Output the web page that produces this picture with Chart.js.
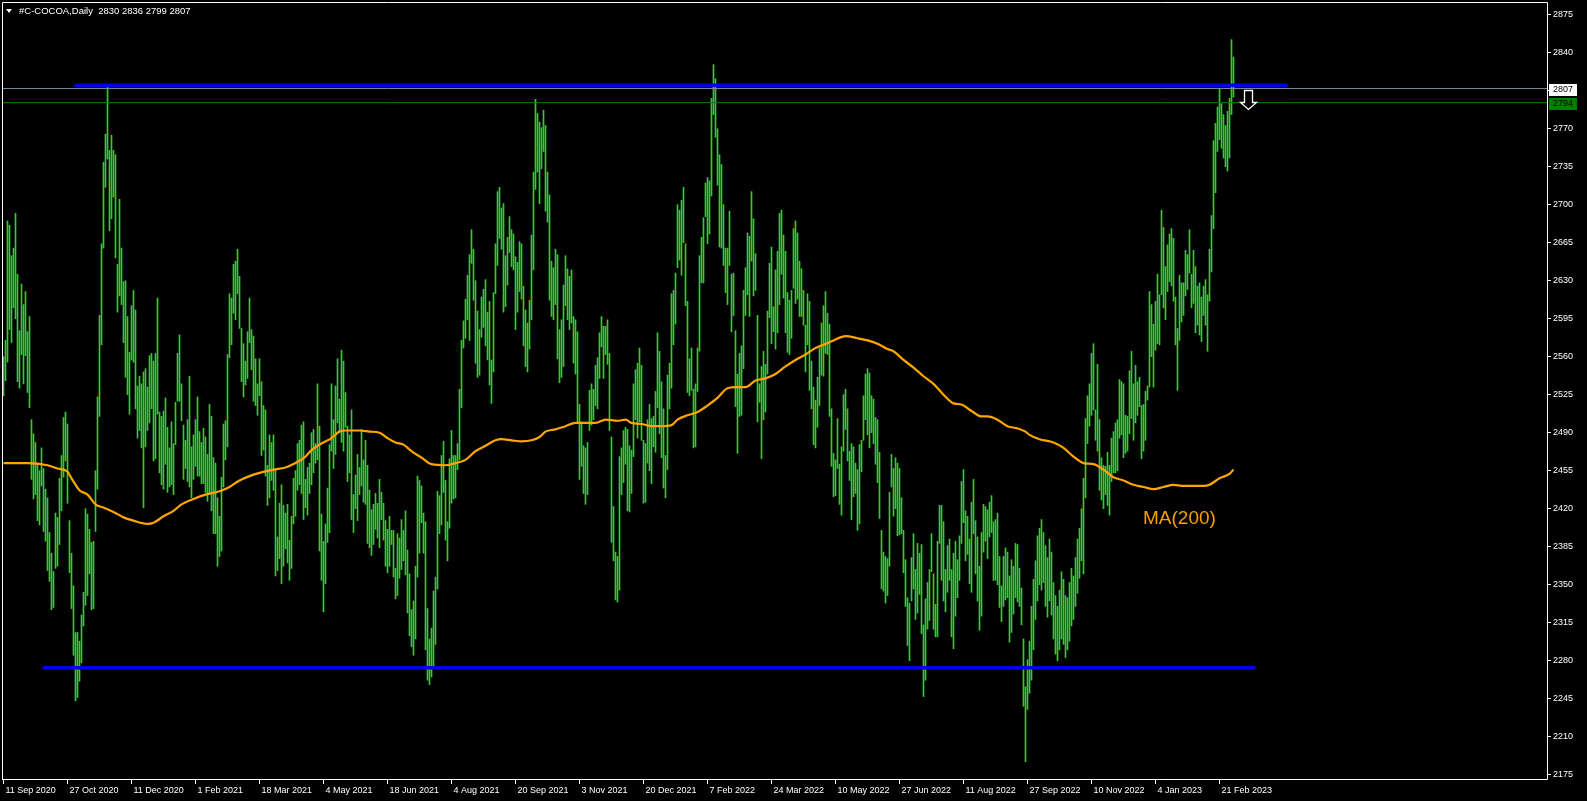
<!DOCTYPE html>
<html><head><meta charset="utf-8">
<script src="https://cdn.jsdelivr.net/npm/chart.js@4.4.0/dist/chart.umd.min.js"></script>
<style>html,body{margin:0;padding:0;background:#000;overflow:hidden}canvas{display:block}</style>
</head><body>
<canvas id="c" width="1587" height="801"></canvas>
<script>
// ---- data (daily bars, index 0 = 11 Sep 2020) ----
const HIGH=[
2560,2575,2685,2681,2653,2660,2692,2636,2584,2627,
2608,2620,2583,2597,2502,2489,2481,2461,2455,2476,
2457,2438,2430,2398,2379,2362,2416,2412,2448,2469,
2504,2509,2498,2409,2379,2349,2306,2306,2298,2322,
2343,2420,2415,2401,2389,2390,2455,2523,2598,2664,
2739,2765,2808,2750,2764,2750,2746,2645,2705,2660,
2629,2630,2597,2564,2607,2621,2603,2533,2542,2535,
2546,2549,2532,2561,2563,2556,2563,2614,2509,2505,
2510,2522,2495,2476,2500,2480,2518,2563,2580,2535,
2497,2483,2502,2542,2477,2488,2502,2523,2491,2481,
2494,2486,2470,2516,2505,2467,2462,2430,2413,2449,
2498,2501,2562,2618,2614,2645,2648,2659,2634,2586,
2572,2556,2583,2614,2585,2579,2558,2535,2558,2537,
2515,2511,2460,2488,2481,2488,2456,2394,2425,2442,
2423,2416,2424,2391,2413,2448,2455,2480,2483,2497,
2500,2447,2458,2462,2490,2493,2480,2535,2496,2415,
2390,2406,2439,2479,2535,2502,2533,2558,2521,2566,
2556,2527,2496,2488,2511,2433,2451,2470,2458,2493,
2465,2483,2460,2437,2419,2424,2434,2425,2447,2435,
2425,2409,2401,2413,2400,2400,2365,2397,2393,2410,
2400,2418,2382,2360,2327,2335,2367,2450,2446,2441,
2416,2408,2328,2300,2310,2344,2357,2436,2432,2469,
2482,2446,2408,2466,2492,2469,2469,2480,2530,2575,
2593,2613,2635,2654,2677,2659,2630,2602,2585,2615,
2622,2631,2601,2611,2557,2619,2664,2712,2716,2697,
2701,2653,2670,2689,2677,2673,2652,2647,2666,2664,
2625,2603,2591,2612,2672,2730,2797,2784,2776,2771,
2787,2773,2730,2709,2648,2642,2659,2654,2585,2594,
2626,2653,2641,2634,2640,2597,2594,2583,2516,2500,
2478,2476,2481,2529,2535,2530,2552,2559,2582,2597,
2588,2588,2594,2563,2486,2422,2380,2376,2468,2476,
2492,2495,2493,2478,2474,2535,2548,2554,2568,2552,
2483,2480,2502,2516,2503,2505,2528,2582,2565,2537,
2512,2469,2543,2554,2618,2621,2637,2700,2695,2704,
2716,2664,2611,2558,2568,2530,2535,2568,2653,2670,
2688,2720,2725,2722,2798,2829,2816,2770,2746,2737,
2700,2660,2660,2694,2636,2637,2584,2544,2563,2570,
2621,2642,2674,2671,2712,2687,2655,2598,2535,2551,
2565,2553,2602,2646,2661,2606,2640,2657,2692,2695,
2672,2657,2619,2612,2621,2678,2685,2674,2648,2641,
2621,2589,2618,2611,2556,2532,2520,2541,2568,2591,
2607,2620,2600,2590,2512,2471,2465,2503,2461,2477,
2525,2530,2512,2473,2480,2477,2462,2456,2479,2483,
2524,2544,2549,2545,2524,2521,2504,2502,2472,2400,
2380,2376,2374,2435,2470,2457,2467,2462,2457,2430,
2400,2373,2338,2333,2375,2397,2364,2388,2379,2387,
2313,2337,2352,2364,2397,2360,2332,2390,2423,2423,
2408,2364,2386,2392,2364,2379,2390,2373,2395,2445,
2456,2418,2413,2392,2426,2447,2409,2394,2367,2398,
2424,2422,2419,2426,2432,2408,2410,2416,2376,2349,
2376,2384,2380,2358,2373,2367,2388,2387,2365,2347,
2300,2256,2281,2298,2330,2355,2372,2395,2402,2410,
2398,2386,2375,2392,2380,2352,2340,2330,2345,2362,
2355,2340,2338,2352,2365,2358,2375,2392,2402,2420,
2448,2503,2524,2535,2563,2572,2511,2553,2502,2467,
2460,2459,2472,2460,2485,2491,2499,2502,2539,2537,
2535,2506,2505,2547,2565,2535,2552,2537,2541,2515,
2516,2528,2533,2620,2608,2590,2611,2636,2617,2695,
2679,2643,2663,2673,2678,2669,2615,2586,2635,2628,
2628,2658,2654,2677,2636,2658,2643,2625,2628,2615,
2625,2631,2617,2659,2690,2759,2775,2790,2807,2793,
2783,2773,2786,2798,2852,2836];
const LOW=[
2524,2538,2555,2585,2573,2605,2595,2537,2531,2562,
2535,2561,2527,2513,2447,2429,2433,2409,2405,2441,
2399,2390,2363,2353,2327,2329,2365,2367,2387,2418,
2449,2464,2425,2361,2328,2285,2243,2246,2261,2278,
2312,2331,2340,2360,2327,2328,2399,2438,2505,2571,
2660,2716,2742,2676,2687,2707,2651,2601,2616,2608,
2573,2541,2525,2507,2557,2555,2512,2485,2492,2476,
2421,2477,2492,2499,2512,2464,2466,2507,2453,2442,
2438,2461,2435,2440,2442,2433,2479,2519,2519,2501,
2447,2457,2445,2440,2430,2447,2459,2450,2450,2443,
2443,2435,2427,2433,2418,2397,2397,2367,2376,2381,
2440,2465,2477,2559,2571,2600,2594,2618,2586,2537,
2523,2534,2540,2573,2548,2519,2515,2506,2524,2469,
2474,2450,2423,2430,2446,2437,2358,2363,2374,2351,
2367,2383,2370,2354,2365,2406,2413,2437,2442,2434,
2410,2421,2414,2434,2442,2453,2462,2465,2381,2354,
2325,2351,2389,2398,2473,2457,2470,2499,2490,2481,
2473,2495,2445,2453,2410,2398,2420,2409,2433,2441,
2426,2424,2388,2384,2377,2387,2401,2393,2384,2410,
2391,2367,2361,2367,2387,2357,2337,2340,2356,2364,
2372,2359,2324,2303,2293,2285,2300,2357,2379,2407,
2379,2290,2262,2258,2265,2275,2295,2346,2397,2405,
2435,2391,2372,2402,2425,2429,2430,2456,2465,2513,
2568,2577,2594,2575,2646,2612,2554,2541,2543,2578,
2587,2570,2557,2534,2517,2546,2618,2644,2669,2659,
2601,2606,2626,2656,2643,2640,2585,2601,2620,2613,
2570,2551,2546,2567,2594,2640,2714,2730,2701,2733,
2749,2694,2684,2612,2597,2594,2608,2558,2536,2541,
2551,2607,2594,2585,2591,2554,2544,2499,2447,2459,
2434,2424,2433,2492,2497,2502,2515,2512,2540,2569,
2540,2562,2553,2492,2389,2372,2336,2334,2345,2433,
2444,2461,2418,2417,2434,2468,2502,2485,2500,2483,
2425,2426,2462,2455,2443,2477,2472,2513,2489,2467,
2439,2430,2456,2512,2531,2571,2590,2642,2649,2635,
2665,2607,2527,2524,2529,2476,2477,2528,2565,2628,
2628,2689,2664,2673,2708,2783,2762,2718,2661,2660,
2644,2619,2608,2644,2583,2598,2514,2471,2505,2506,
2549,2598,2617,2597,2648,2616,2621,2500,2518,2466,
2502,2509,2544,2596,2572,2583,2567,2582,2608,2636,
2614,2582,2564,2562,2577,2623,2609,2613,2597,2597,
2589,2546,2571,2529,2512,2479,2476,2495,2515,2543,
2542,2563,2562,2505,2459,2431,2432,2457,2424,2414,
2473,2493,2464,2446,2410,2431,2434,2400,2406,2454,
2483,2502,2488,2476,2490,2480,2461,2444,2411,2346,
2344,2333,2340,2367,2440,2413,2420,2395,2396,2397,
2361,2330,2294,2280,2335,2346,2318,2324,2341,2305,
2247,2262,2309,2317,2362,2309,2302,2302,2388,2354,
2335,2325,2343,2354,2302,2291,2321,2338,2354,2388,
2407,2372,2378,2351,2343,2397,2360,2335,2308,2321,
2380,2390,2374,2394,2398,2354,2354,2350,2329,2316,
2330,2336,2338,2297,2306,2323,2338,2334,2330,2313,
2238,2187,2235,2250,2262,2290,2318,2335,2350,2345,
2352,2330,2320,2335,2322,2300,2286,2280,2290,2300,
2295,2283,2290,2298,2312,2318,2330,2342,2356,2372,
2360,2430,2480,2496,2506,2511,2483,2473,2437,2428,
2420,2433,2423,2414,2445,2453,2453,2455,2485,2488,
2467,2471,2473,2489,2503,2483,2499,2506,2514,2466,
2473,2483,2520,2532,2560,2532,2566,2572,2571,2617,
2605,2594,2620,2629,2625,2611,2571,2529,2575,2592,
2598,2616,2622,2637,2605,2609,2582,2589,2580,2574,
2598,2589,2565,2611,2638,2678,2711,2749,2760,2752,
2743,2735,2731,2743,2783,2799];
// MA(200) at these bar indexes
const MA_IDX=[0,12,22,27,32,34,38,42,46,50,55,60,65,72,75,80,85,89,95,101,
108,113,118,123,128,135,141,146,151,154,159,164,168,171,178,183,188,192,196,200,
204,209,214,221,226,231,236,241,246,249,254,259,264,268,271,276,281,286,291,296,
301,307,311,314,319,324,329,334,337,342,347,352,357,362,367,371,376,381,386,391,
396,401,406,410,415,421,427,432,437,442,445,450,455,460,465,470,475,479,484,489,
492,497,502,507,511,513,518,525,530,535,540,545,550,555,560,565,570,575,580,585,
590,595,600,603,608,613,615];
const MA_VAL=[2462,2462,2460,2457,2454,2448,2437,2433,2424,2421,2417,2412,2409,2406,2407,2413,2418,2424,2429,2433,
2436,2440,2446,2450,2453,2456,2458,2462,2468,2474,2480,2485,2491,2492,2492,2491,2490,2485,2481,2479,
2473,2467,2461,2460,2462,2465,2473,2478,2483,2484,2483,2482,2483,2486,2491,2493,2496,2499,2499,2499,
2502,2501,2502,2499,2498,2496,2496,2497,2502,2506,2509,2515,2522,2531,2532,2532,2538,2540,2544,2551,
2557,2562,2568,2571,2575,2579,2577,2575,2572,2567,2565,2557,2550,2542,2535,2525,2517,2516,2510,2505,
2505,2502,2496,2494,2491,2488,2484,2481,2476,2468,2462,2461,2456,2449,2446,2442,2440,2438,2440,2442,
2441,2441,2441,2442,2448,2452,2456];
const DATE_LABELS=["11 Sep 2020","27 Oct 2020","11 Dec 2020","1 Feb 2021","18 Mar 2021","4 May 2021","18 Jun 2021","4 Aug 2021","20 Sep 2021","3 Nov 2021","20 Dec 2021","7 Feb 2022","24 Mar 2022","10 May 2022","27 Jun 2022","11 Aug 2022","27 Sep 2022","10 Nov 2022","4 Jan 2023","21 Feb 2023"];
const DATE_IDX=[0,32,64,96,128,160,192,224,256,288,320,352,384,416,448,480,512,544,576,608];
const Y_TICKS=[2175,2210,2245,2280,2315,2350,2385,2420,2455,2490,2525,2560,2595,2630,2665,2700,2735,2770,2805,2840,2875];
const RES_LEVEL=2810, RES_FROM=35.5, RES_TO=642;
const SUP_LEVEL=2273.5, SUP_FROM=19.6, SUP_TO=626;
const BID=2807, ASK=2794;
const HEADER='#C-COCOA,Daily  2830 2836 2799 2807';
const MA_LABEL='MA(200)', MA_LABEL_AT=[569.75,2410.5];
const ARROW_AT=[622.25,2805.6,2794.7,2788.2];

const X_MIN=-0.75, X_MAX=772.25, Y_MIN=2170.1, Y_MAX=2886.7;
const FONT='"Liberation Sans", Arial, sans-serif';

const bars=HIGH.map((h,i)=>({x:i,y:[LOW[i],h]}));
const ma=MA_IDX.map((x,k)=>({x:x,y:MA_VAL[k]}));

const bgPlugin={id:'bg',beforeDraw(c){const g=c.ctx;g.save();g.fillStyle='#000';g.fillRect(0,0,c.width,c.height);g.restore();}};
const decoPlugin={id:'deco',
 afterDatasetsDraw(c){
  const g=c.ctx,xs=c.scales.x,ys=c.scales.y,a=c.chartArea;
  g.save();
  g.fillStyle='#f5a000';g.font='19px '+FONT;g.textBaseline='middle';g.textAlign='left';
  g.fillText(MA_LABEL,xs.getPixelForValue(MA_LABEL_AT[0]),ys.getPixelForValue(MA_LABEL_AT[1]));
  const cx=Math.round(xs.getPixelForValue(ARROW_AT[0]))+0.5;
  const yt=Math.round(ys.getPixelForValue(ARROW_AT[1]))+0.5;
  const yh=Math.round(ys.getPixelForValue(ARROW_AT[2]))+0.5;
  const yb=Math.round(ys.getPixelForValue(ARROW_AT[3]))+0.5;
  g.beginPath();
  g.moveTo(cx-4,yt);g.lineTo(cx+4,yt);g.lineTo(cx+4,yh);g.lineTo(cx+8,yh);
  g.lineTo(cx,yb);g.lineTo(cx-8,yh);g.lineTo(cx-4,yh);g.closePath();
  g.fillStyle='#000';g.fill();g.strokeStyle='#fff';g.lineWidth=1.3;g.stroke();
  g.strokeStyle='#fff';g.lineWidth=1;
  g.beginPath();
  g.moveTo(a.left+0.5,a.bottom);g.lineTo(a.left+0.5,a.top+0.5);g.lineTo(a.right-0.5,a.top+0.5);
  g.lineTo(a.right-0.5,a.bottom-0.5);g.lineTo(a.left,a.bottom-0.5);
  g.stroke();
  g.restore();
 },
 afterDraw(c){
  const g=c.ctx,ys=c.scales.y,a=c.chartArea;
  g.save();
  g.fillStyle='#fff';
  g.beginPath();g.moveTo(6,9);g.lineTo(12,9);g.lineTo(9,13);g.closePath();g.fill();
  g.font='9.5px '+FONT;g.textBaseline='middle';g.textAlign='left';
  g.fillText(HEADER,19,11);
  const boxes=[[BID,'#ffffff'],[ASK,'#008000']];
  boxes.forEach(([v,col])=>{
    const y=Math.round(ys.getPixelForValue(v));
    g.fillStyle=col;g.fillRect(a.right+1,y-5,28,12);
    g.fillStyle='#000';g.font='9px '+FONT;g.textBaseline='middle';
    g.fillText(String(v),a.right+5,y+1);
  });
  g.restore();
 }};

new Chart(document.getElementById('c'),{
 type:'bar',
 data:{datasets:[
  {type:'bar',data:bars,backgroundColor:'#32cd32',borderWidth:0,barThickness:1,grouped:false,order:5},
  {type:'line',data:ma,borderColor:'#ffa500',borderWidth:2.2,pointRadius:0,cubicInterpolationMode:'monotone',order:4},
  {type:'line',data:[{x:X_MIN,y:BID},{x:X_MAX,y:BID}],borderColor:'#778899',borderWidth:1,pointRadius:0,order:3},
  {type:'line',data:[{x:X_MIN,y:ASK},{x:X_MAX,y:ASK}],borderColor:'#008000',borderWidth:1,pointRadius:0,order:3},
  {type:'line',data:[{x:RES_FROM,y:RES_LEVEL},{x:RES_TO,y:RES_LEVEL}],borderColor:'#0000ee',borderWidth:3.6,pointRadius:0,order:1},
  {type:'line',data:[{x:SUP_FROM,y:SUP_LEVEL},{x:SUP_TO,y:SUP_LEVEL}],borderColor:'#0000ee',borderWidth:3.6,pointRadius:0,order:1}
 ]},
 options:{
  responsive:false,animation:false,devicePixelRatio:1,
  layout:{padding:{left:2,top:2,right:0,bottom:0}},
  plugins:{legend:{display:false},tooltip:{enabled:false}},
  scales:{
   x:{type:'linear',position:'bottom',min:X_MIN,max:X_MAX,offset:false,
      afterBuildTicks:s=>{s.ticks=DATE_IDX.map(v=>({value:v}));},
      afterFit:s=>{s.height=21;s.paddingLeft=0;s.paddingRight=0;},
      grid:{display:true,offset:false,drawOnChartArea:false,drawTicks:true,tickLength:4,color:'#ffffff',lineWidth:1},
      border:{display:false},
      ticks:{color:'#ffffff',font:{family:FONT,size:9},autoSkip:false,maxRotation:0,minRotation:0,align:'start',labelOffset:2,padding:1,
        callback:v=>{const k=DATE_IDX.indexOf(v);return k>=0?DATE_LABELS[k]:'';}}},
   y:{type:'linear',position:'right',min:Y_MIN,max:Y_MAX,
      afterBuildTicks:s=>{s.ticks=Y_TICKS.map(v=>({value:v}));},
      afterFit:s=>{s.width=39;s.paddingTop=0;s.paddingBottom=0;},
      grid:{display:true,drawOnChartArea:false,drawTicks:true,tickLength:3,color:'#ffffff',lineWidth:1},
      border:{display:false},
      ticks:{color:'#ffffff',font:{family:FONT,size:9},padding:2,callback:v=>String(v)}}
  }
 },
 plugins:[bgPlugin,decoPlugin]
});
</script>
</body></html>
